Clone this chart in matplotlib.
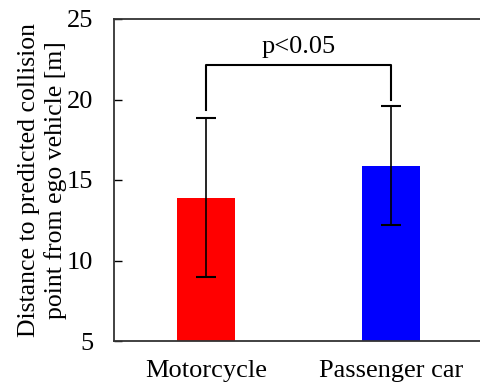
import matplotlib
matplotlib.use('Agg')
import matplotlib.pyplot as plt

# data
categories = ['Motorcycle', 'Passenger car']
means = [13.9, 15.9]
sds = [4.95, 3.72]
colors = ['#ff0000', '#0000ff']
bracket_y = 22.15
bracket_ends = [19.35, 20.0]
p_text = 'p<0.05'

plt.rcParams['font.family'] = ['Liberation Serif', 'DejaVu Serif']
fs = 19

fig = plt.figure(figsize=(4.81, 3.83), dpi=100)
ax = fig.add_axes([114 / 481, 1 - 341 / 383, (483.5 - 114) / 481, (341 - 19) / 383])

x = list(range(len(categories)))
ax.bar(x, means, width=0.315, color=colors, bottom=0, zorder=2)
ax.errorbar(x, means, yerr=sds, fmt='none', ecolor='black', elinewidth=1.2,
            capsize=7.5, capthick=1.5, zorder=3)

# significance bracket
ax.plot([x[0], x[0], x[1], x[1]],
        [bracket_ends[0], bracket_y, bracket_y, bracket_ends[1]],
        color='black', lw=1.5, zorder=3)
ax.text((x[0] + x[1]) / 2, bracket_y + 0.45, p_text, ha='center', va='bottom',
        fontsize=fs)

ax.set_xlim(-0.5, 1.5)
ax.set_ylim(5, 25)
ax.set_yticks([5, 10, 15, 20, 25])
ax.set_xticks(x)
ax.set_xticklabels(categories)
ax.tick_params(axis='y', direction='in', length=6, width=1, labelsize=fs, pad=15)
ax.tick_params(axis='x', length=0, labelsize=fs, pad=14)
ax.set_ylabel('Distance to predicted collision\npoint from ego vehicle [m]',
              fontsize=18.5, linespacing=1.2)
ax.yaxis.set_label_coords(-0.128, 0.5)

for s in ['left', 'bottom', 'top']:
    ax.spines[s].set_linewidth(1.3)
    ax.spines[s].set_color('#333333')
ax.spines['right'].set_visible(False)

fig.savefig('out.png', dpi=100)
